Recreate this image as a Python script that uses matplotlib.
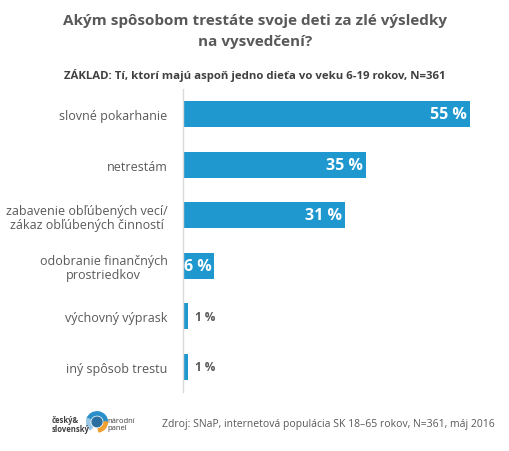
import matplotlib
matplotlib.use("Agg")
import matplotlib.pyplot as plt
from matplotlib.patches import Wedge

categories = ["slovné pokarhanie", "netrestám",
              "zabavenie obľúbených vecí/\nzákaz obľúbených činností",
              "odobranie finančných\nprostriedkov", "výchovný výprask", "iný spôsob trestu"]
values = [55, 35, 31, 6, 1, 1]
labels = ["55 %", "35 %", "31 %", "6 %", "1 %", "1 %"]

FONT = ["Open Sans", "DejaVu Sans"]
plt.rcParams['font.family'] = FONT
GRAY = "#595959"
BLUE = "#1f98d0"

fig = plt.figure(figsize=(5.10, 4.52), dpi=100)
ax = fig.add_axes([183/510, 1-393/452, (496-183)/510, (393-90)/452])
y = list(range(len(categories)))
ax.barh(y, values, height=0.52, color=BLUE)
ax.set_ylim(len(categories)-0.5, -0.5)
ax.set_xlim(0, 60)
for s in ["top", "right", "bottom"]:
    ax.spines[s].set_visible(False)
ax.spines["left"].set_color("#d9d9d9")
ax.spines["left"].set_linewidth(1)
ax.set_xticks([])
ax.set_yticks(y)
ax.set_yticklabels(categories, fontsize=9, color=GRAY, linespacing=1.1)
ax.tick_params(axis="y", length=0, pad=11)
for lab in ax.get_yticklabels():
    lab.set_multialignment("center")

for yi, v, t in zip(y, values, labels):
    if v >= 5:
        ax.text(v - 0.5, yi, t, ha="right", va="center", color="white",
                fontsize=11.5, fontweight="bold")
    else:
        ax.text(v + 1.3, yi, t, ha="left", va="center", color=GRAY,
                fontsize=8.5, fontweight="bold")

fig.text(0.5, 1-31.5/452, "Akým spôsobom trestáte svoje deti za zlé výsledky\nna vysvedčení?",
         ha="center", va="center", fontsize=11, fontweight="bold", color=GRAY,
         linespacing=1.65)
fig.text(0.5, 1-75/452, "ZÁKLAD: Tí, ktorí majú aspoň jedno dieťa vo veku 6-19 rokov, N=361",
         ha="center", va="center", fontsize=8.2, fontweight="bold", color="#404040")
fig.text(162/510, 1-425/452, "Zdroj: SNaP, internetová populácia SK 18–65 rokov, N=361, máj 2016",
         ha="left", va="center", fontsize=7.5, color=GRAY)

# logo
fig.text(52/510, 1-425/452, "český&\nslovenský", ha="left", va="center",
         fontsize=5.5, fontweight="bold", color="#404040", linespacing=1.0)
fig.text(107/510, 1-425/452, "národní\npanel", ha="left", va="center",
         fontsize=5.5, color="#404040", linespacing=1.0)
lax = fig.add_axes([86/510, 1-440/452, 22/510, 32/452])
lax.set_xlim(-1, 1); lax.set_ylim(-1.5, 1.5); lax.axis("off")
lax.add_patch(Wedge((0, 0.1), 0.95, 0, 160, width=0.3, color="#2a8fc9"))
lax.add_patch(Wedge((0, 0.1), 0.95, 280, 360, width=0.3, color="#f0a030"))
lax.add_patch(Wedge((0, 0.1), 0.95, 160, 230, width=0.3, color="#9bc8e6"))
lax.add_patch(Wedge((0, 0.1), 0.45, 0, 360, color="#2a6fa0"))

fig.savefig("out.png", dpi=100, facecolor="white")
